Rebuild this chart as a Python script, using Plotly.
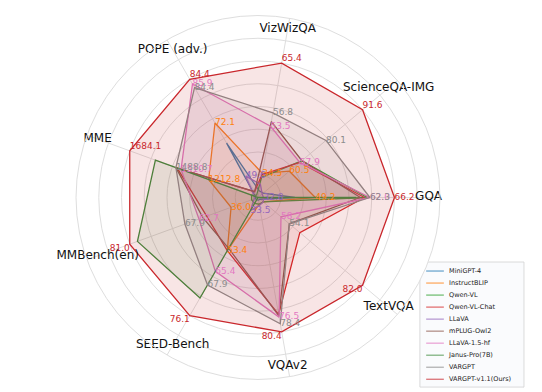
import plotly.graph_objects as go

categories = ["GQA", "ScienceQA-IMG", "VizWizQA", "POPE (adv.)", "MME",
              "MMBench(en)", "SEED-Bench", "VQAv2", "TextVQA"]

models = ["MiniGPT-4", "InstructBLIP", "Qwen-VL", "Qwen-VL-Chat", "LLaVA",
          "mPLUG-Owl2", "LLaVA-1.5-hf", "Janus-Pro(7B)", "VARGPT", "VARGPT-v1.1(Ours)"]

# normalized scores as drawn (VARGPT-v1.1 = 1.0 on every axis)
minigpt4 = [0.27, 0.05, 0.05, 0.46, 0.02, 0.02, 0.02, 0.02, 0.02]
instructblip = [0.42, 0.30, 0.18, 0.63, 0.385, 0.21, 0.45, 0.05, 0.05]
qwen_vl = [0.80, 0.42, 0.15, 0.02, 0.05, 0.05, 0.05, 0.05, 0.05]
qwen_vl_chat = [0.78, 0.40, 0.17, 0.05, 0.63, 0.40, 0.45, 0.87, 0.40]
llava = [0.04, 0.04, 0.10, 0.18, 0.03, 0.03, 0.11, 0.06, 0.05]
mplug_owl2 = [0.75, 0.42, 0.565, 0.05, 0.64, 0.43, 0.43, 0.88, 0.30]
llava15 = [0.82, 0.40, 0.53, 0.96, 0.60, 0.46, 0.625, 0.89, 0.22]
janus_pro = [0.72, 0.0, 0.0, 0.0, 0.80, 0.94, 0.85, 0.0, 0.0]
vargpt = [0.82, 0.65, 0.63, 0.93, 0.64, 0.57, 0.74, 0.94, 0.30]
vargpt_v11 = [1.0, 1.0, 1.0, 1.0, 1.0, 1.0, 1.0, 1.0, 1.0]

series = [minigpt4, instructblip, qwen_vl, qwen_vl_chat, llava,
          mplug_owl2, llava15, janus_pro, vargpt, vargpt_v11]

colors = ["#1f77b4", "#ff7f0e", "#2ca02c", "#d62728", "#9467bd",
          "#8c564b", "#e377c2", "#3d8b3d", "#8c8c8c", "#c9272c"]

# raw score labels printed on the chart
labels_instructblip = ["49.2", "60.5", "34.5", "72.1", "1212.8", "36.0", "53.4", None, None]
labels_llava = ["32.8", None, None, "49.6", None, None, "33.5", None, None]
labels_llava15 = ["62.0", "57.9", "53.5", "85.9", "1510.7", "62.7", "65.4", "76.5", "58.2"]
labels_vargpt = ["62.3", "80.1", "56.8", "84.4", "1488.8", "67.9", "67.9", "78.4", "54.1"]
labels_v11 = ["66.2", "91.6", "65.4", "84.4", "1684.1", "81.0", "76.1", "80.4", "82.0"]

label_sets = [(1, labels_instructblip), (4, labels_llava), (6, labels_llava15),
              (8, labels_vargpt), (9, labels_v11)]


def rgba(hx, a):
    h = hx.lstrip("#")
    r, g, b = int(h[0:2], 16), int(h[2:4], 16), int(h[4:6], 16)
    return f"rgba({r},{g},{b},{a})"


fig = go.Figure()
FONT = "DejaVu Sans"

for name, vals, col in zip(models, series, colors):
    fill_a = 0.12 if name.startswith("VARGPT-v1.1") else 0.1
    fig.add_trace(go.Scatterpolar(
        r=vals + vals[:1], theta=categories + categories[:1],
        mode="lines", name=name,
        line=dict(color=col, width=1.3),
        fill="toself", fillcolor=rgba(col, fill_a),
        showlegend=False, hoverinfo="skip"))

n_axes = len(categories)
for idx, labs in label_sets:
    rs, ths, txt, pos = [], [], [], []
    for k, t in enumerate(labs):
        if t is None:
            continue
        rs.append(series[idx][k])
        ths.append(categories[k])
        txt.append(t)
        if idx == len(series) - 1:
            if k == 0:
                pos.append("middle right")
            elif k <= 4:
                pos.append("top right")
            else:
                pos.append("bottom left")
        else:
            pos.append("middle right")
    fig.add_trace(go.Scatterpolar(
        r=rs, theta=ths, text=txt, mode="text", textposition=pos,
        textfont=dict(family=FONT, size=9, color=colors[idx]),
        showlegend=False, hoverinfo="skip"))

# axis (category) labels
fig.add_trace(go.Scatterpolar(
    r=[1.25] * n_axes, theta=categories, text=categories, mode="text",
    textfont=dict(family=FONT, size=12, color="#111111"),
    showlegend=False, hoverinfo="skip"))

R_MAX = 1.3333
fig.update_layout(
    width=542, height=392,
    margin=dict(l=0, r=0, t=0, b=0),
    paper_bgcolor="white",
    font=dict(family=FONT),
    polar=dict(
        domain=dict(x=[0.1255, 0.7970], y=[0.0500, 0.9832]),
        bgcolor="white",
        radialaxis=dict(range=[0, R_MAX], tickvals=[i / 6 for i in range(1, 9)],
                        showticklabels=False, ticks="", showline=False,
                        gridcolor="#dedede", gridwidth=1),
        angularaxis=dict(rotation=0, direction="counterclockwise",
                         showticklabels=False, ticks="",
                         gridcolor="#dedede", linecolor="#dedede", linewidth=1),
    ),
)

# legend drawn as a small cartesian panel
n = len(models)
fig.update_layout(
    xaxis=dict(domain=[0.760, 0.952], range=[0, 10], visible=False, fixedrange=True),
    yaxis=dict(domain=[0.033, 0.352], range=[n - 0.35, -0.75], visible=False, fixedrange=True),
)
for i, (name, col) in enumerate(zip(models, colors)):
    fig.add_trace(go.Scatter(x=[0.6, 2.3], y=[i, i], mode="lines",
                             line=dict(color=rgba(col, 0.7), width=1.2),
                             xaxis="x", yaxis="y", showlegend=False, hoverinfo="skip"))
fig.add_trace(go.Scatter(x=[2.8] * n, y=list(range(n)), text=models, mode="text",
                         textposition="middle right",
                         textfont=dict(family=FONT, size=6.5, color="#222222"),
                         xaxis="x", yaxis="y", showlegend=False, hoverinfo="skip"))
fig.add_shape(type="rect", xref="x domain", yref="y domain", x0=0, x1=1, y0=0, y1=1,
              line=dict(color="#d0d0d0", width=0.8), fillcolor="rgba(255,255,255,0.8)",
              layer="below")

fig.write_html("out.html")
